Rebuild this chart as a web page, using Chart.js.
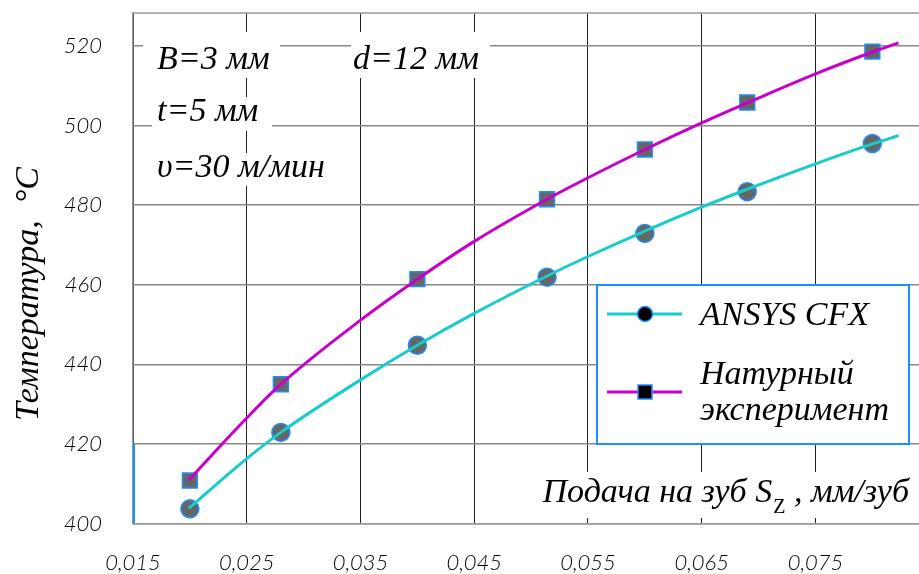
<!DOCTYPE html>
<html>
<head>
<meta charset="utf-8">
<script src="https://cdn.jsdelivr.net/npm/chart.js@4.4.1/dist/chart.umd.min.js"></script>
<style>
  html, body { margin: 0; padding: 0; background: #fff; }
</style>
</head>
<body>
<canvas id="temp" width="919" height="574"></canvas>
<script>
// measured points
const feed = [0.020, 0.028, 0.040, 0.0514, 0.060, 0.069, 0.080];
const ansys = [403.7, 422.9, 444.8, 461.9, 472.9, 483.4, 495.5];
const experiment = [410.8, 435.0, 461.4, 481.5, 494.0, 505.8, 518.6];

// trend curves
const trendFeed = [0.0199, 0.025, 0.028, 0.035, 0.040, 0.045, 0.0514, 0.055, 0.060, 0.065, 0.069, 0.075, 0.080, 0.0823];
const ansysTrend = [403.8, 416.3, 422.9, 436.1, 444.8, 452.8, 462.2, 467.1, 473.5, 479.5, 484.0, 490.4, 495.4, 497.5];
const experimentTrend = [410.9, 426.5, 435.0, 451.1, 461.4, 470.9, 481.5, 486.9, 494.0, 500.7, 505.7, 513.0, 518.5, 520.8];

const xTicks = [0.015, 0.025, 0.035, 0.045, 0.055, 0.065, 0.075];
const yTicks = [400, 420, 440, 460, 480, 500, 520];

const seriesNames = ["ANSYS CFX", ["Натурный", "эксперимент"]];
const notes = ["B=3 мм", "d=12 мм", "t=5 мм", "υ=30 м/мин"];

const cyan = "#19cccc";
const magenta = "#c800c8";
const edge = "#1e8fff";

const serif = "'Liberation Serif', 'DejaVu Serif', serif";
const tickFont = { family: "Lato, 'DejaVu Sans Condensed', sans-serif", style: "italic", weight: 300, size: 22 };

function pts(xs, ys) {
    return xs.map((x, i) => ({ x: x, y: ys[i] }));
}

function boxedText(ctx, text, x, y, size, box) {
    ctx.font = "italic " + size + "px " + serif;
    ctx.fillStyle = "#fff";
    ctx.fillRect(box[0], box[1], box[2] - box[0], box[3] - box[1]);
    ctx.fillStyle = "#000";
    ctx.textAlign = "left";
    ctx.textBaseline = "alphabetic";
    ctx.fillText(text, x, y);
}

const decor = {
    id: "decor",
    beforeDatasetsDraw(chart) {
        const ctx = chart.ctx;
        const a = chart.chartArea;
        const ys = chart.scales.y;
        ctx.save();
        // top frame line
        ctx.strokeStyle = "#999";
        ctx.lineWidth = 1.5;
        ctx.beginPath();
        ctx.moveTo(a.left, a.top);
        ctx.lineTo(a.right, a.top);
        ctx.stroke();
        // blue piece of left edge
        ctx.strokeStyle = edge;
        ctx.lineWidth = 2;
        ctx.beginPath();
        ctx.moveTo(a.left + 1, ys.getPixelForValue(420));
        ctx.lineTo(a.left + 1, ys.getPixelForValue(400));
        ctx.stroke();

        // parameters
        boxedText(ctx, notes[0], 157, 69, 34, [143, 32, 280, 78]);
        boxedText(ctx, notes[1], 353, 69, 34, [351, 32, 490, 78]);
        boxedText(ctx, notes[2], 157, 121, 34, [152, 97, 272, 131]);
        boxedText(ctx, notes[3], 157, 177, 34, [152, 153, 335, 186]);

        // x axis title inside plot
        ctx.fillStyle = "#fff";
        ctx.fillRect(530, 472, a.right - 530, 46);
        ctx.fillStyle = "#000";
        ctx.textBaseline = "alphabetic";
        const p1 = "Подача на зуб S", p2 = "Z", p3 = " , мм/зуб";
        ctx.font = "italic 34px " + serif;
        const w1 = ctx.measureText(p1).width, w3 = ctx.measureText(p3).width;
        ctx.font = "20px " + serif;
        const w2 = ctx.measureText(p2).width;
        let x = 908 - w1 - w2 - w3;
        ctx.font = "italic 34px " + serif;
        ctx.fillText(p1, x, 502);
        x += w1 + 1;
        ctx.font = "20px " + serif;
        ctx.fillText(p2, x, 513);
        x += w2;
        ctx.font = "italic 34px " + serif;
        ctx.fillText(p3, x, 502);

        // legend
        ctx.fillStyle = "#fff";
        ctx.fillRect(597, 285, 312, 159);
        ctx.strokeStyle = edge;
        ctx.lineWidth = 2;
        ctx.strokeRect(597, 285, 312, 159);
        const ds = chart.data.datasets;
        const rows = [314, 392];
        [0, 1].forEach(i => {
            const y = rows[i];
            ctx.strokeStyle = ds[i].borderColor;
            ctx.lineWidth = 3;
            ctx.beginPath();
            ctx.moveTo(607, y);
            ctx.lineTo(682, y);
            ctx.stroke();
            ctx.fillStyle = "#000";
            ctx.strokeStyle = edge;
            ctx.lineWidth = 1.5;
            ctx.beginPath();
            if (i === 0) ctx.arc(645, y, 7.5, 0, Math.PI * 2);
            else ctx.rect(638, y - 7, 14, 14);
            ctx.fill();
            ctx.stroke();
        });
        ctx.fillStyle = "#000";
        ctx.font = "italic 34px " + serif;
        ctx.fillText(seriesNames[0], 700, 325);
        ctx.fillText(seriesNames[1][0], 700, 384);
        ctx.fillText(seriesNames[1][1], 700, 420);

        // y axis title
        ctx.save();
        ctx.translate(38, 294);
        ctx.rotate(-Math.PI / 2);
        ctx.textAlign = "center";
        ctx.font = "italic 34px " + serif;
        ctx.fillText("Температура,  °C", 0, 0);
        ctx.restore();

        ctx.restore();
    }
};

new Chart(document.getElementById("temp").getContext("2d"), {
    type: "scatter",
    data: {
        datasets: [
            {
                data: pts(trendFeed, ansysTrend),
                showLine: true,
                borderColor: cyan,
                borderWidth: 3,
                pointRadius: 0,
                cubicInterpolationMode: "monotone"
            },
            {
                data: pts(trendFeed, experimentTrend),
                showLine: true,
                borderColor: magenta,
                borderWidth: 3,
                pointRadius: 0,
                cubicInterpolationMode: "monotone"
            },
            {
                data: pts(feed, ansys),
                pointStyle: "circle",
                pointRadius: 9,
                backgroundColor: "#666",
                borderColor: edge,
                borderWidth: 1.5
            },
            {
                data: pts(feed, experiment),
                pointStyle: "rect",
                pointRadius: 10.5,
                backgroundColor: "#666",
                borderColor: edge,
                borderWidth: 1.5
            }
        ]
    },
    options: {
        responsive: false,
        animation: false,
        devicePixelRatio: 1,
        layout: { autoPadding: false, padding: { top: 13, right: 0, left: 0, bottom: 0 } },
        plugins: {
            legend: { display: false },
            tooltip: { enabled: false }
        },
        scales: {
            x: {
                type: "linear",
                min: 0.015,
                max: 0.0841,
                afterBuildTicks: s => { s.ticks = xTicks.map(v => ({ value: v })); },
                afterFit: s => { s.height = 50.5; s.paddingLeft = 0; s.paddingRight = 0; },
                grid: { color: "#222", lineWidth: 1, drawTicks: true, tickLength: 24, tickColor: "rgba(0,0,0,0)" },
                border: { color: "#999", width: 1.5 },
                ticks: {
                    color: "#000",
                    font: tickFont,
                    padding: 2,
                    maxRotation: 0,
                    callback: v => v.toFixed(3).replace(".", ",")
                }
            },
            y: {
                min: 400,
                max: 528.3,
                afterBuildTicks: s => { s.ticks = yTicks.map(v => ({ value: v })); },
                afterFit: s => { s.width = 133; s.paddingTop = 0; s.paddingBottom = 0; },
                grid: { color: "#888", lineWidth: 1.5, drawTicks: true, tickLength: 31, tickColor: "rgba(0,0,0,0)" },
                border: { color: "#999", width: 1.5 },
                ticks: {
                    color: "#000",
                    font: tickFont,
                    padding: 0
                }
            }
        }
    },
    plugins: [decor]
});
</script>
</body>
</html>
